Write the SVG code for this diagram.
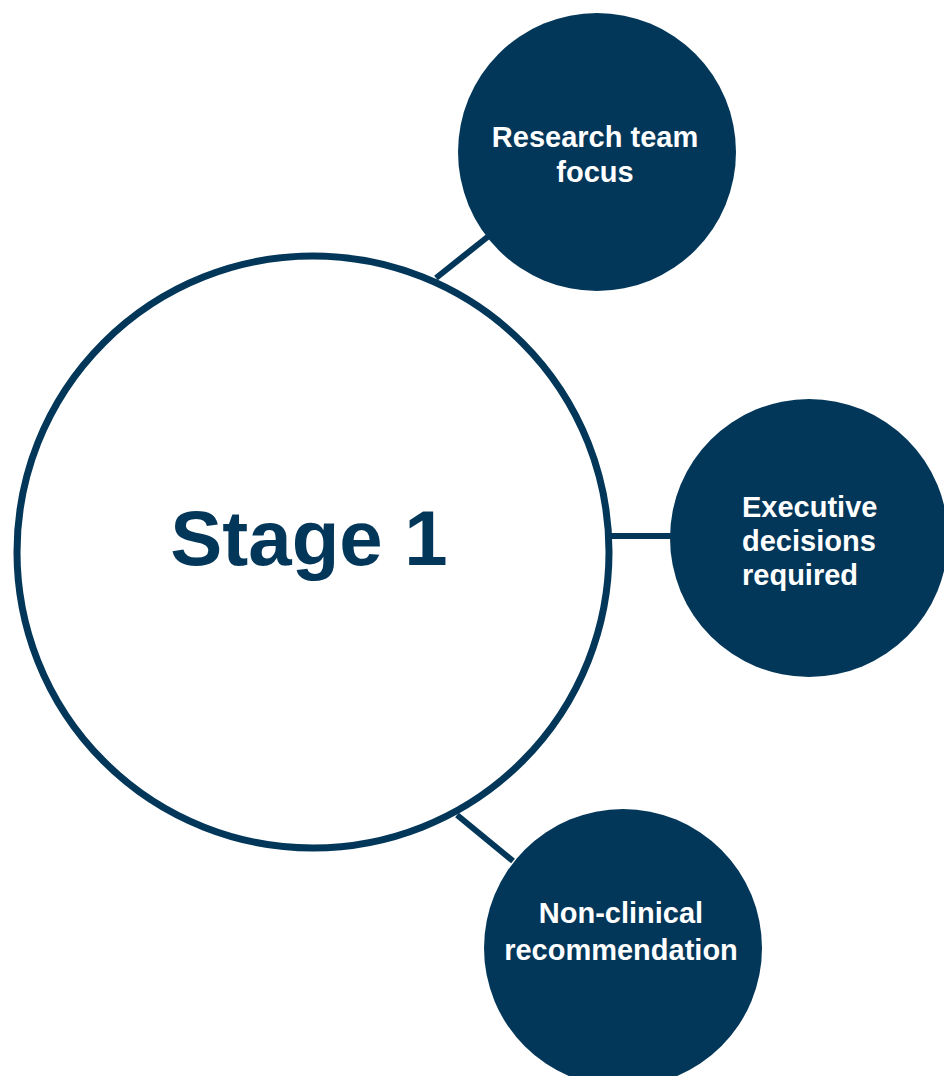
<svg xmlns="http://www.w3.org/2000/svg" width="944" height="1076" viewBox="0 0 944 1076">
<style>
.c{fill:#03375a}
.ln{stroke:#03375a;stroke-width:6;fill:none}
.t{font-family:"Liberation Sans",Arial,sans-serif;font-weight:bold;font-size:29px;fill:#fff}
.big{font-family:"Liberation Sans",Arial,sans-serif;font-weight:bold;font-size:78px;fill:#03375a}
</style>
<rect width="944" height="1076" fill="#fff"/>
<g id="connectors">
<line class="ln" x1="436" y1="278" x2="490" y2="235"/>
<line class="ln" x1="610" y1="536" x2="674" y2="536"/>
<line class="ln" x1="457" y1="815" x2="513" y2="861"/>
</g>
<g id="stage1">
<circle cx="313" cy="552" r="296" fill="#fff" stroke="#03375a" stroke-width="7"/>
<text class="big" x="309" y="565" text-anchor="middle">Stage 1</text>
</g>
<g id="research">
<circle class="c" cx="597" cy="152" r="139"/>
<text class="t" x="595" y="147" text-anchor="middle">Research team</text>
<text class="t" x="595" y="182" text-anchor="middle">focus</text>
</g>
<g id="executive">
<circle class="c" cx="809" cy="538" r="139"/>
<text class="t" x="742" y="517">Executive</text>
<text class="t" x="742" y="551">decisions</text>
<text class="t" x="742" y="585">required</text>
</g>
<g id="nonclinical">
<circle class="c" cx="623" cy="948" r="139"/>
<text class="t" x="621" y="923" text-anchor="middle">Non-clinical</text>
<text class="t" x="621" y="960" text-anchor="middle">recommendation</text>
</g>
</svg>
